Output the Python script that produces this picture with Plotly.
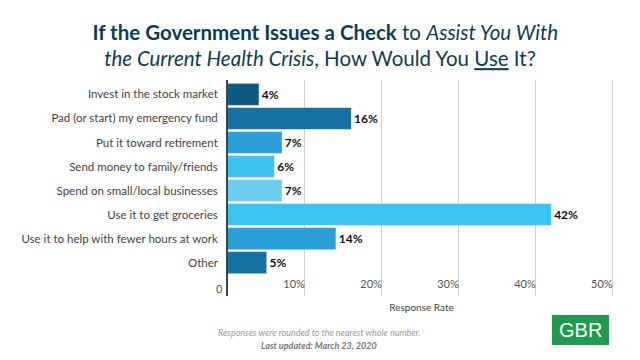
import plotly.graph_objects as go

categories = [
    "Invest in the stock market",
    "Pad (or start) my emergency fund",
    "Put it toward retirement",
    "Send money to family/friends",
    "Spend on small/local businesses",
    "Use it to get groceries",
    "Use it to help with fewer hours at work",
    "Other",
]
values = [4, 16, 7, 6, 7, 42, 14, 5]
bar_colors = ["#0f5a80", "#1772a3", "#2a9fd8", "#3cc2ef", "#6ccdef", "#3ac4f2", "#2b9fd8", "#1672a2"]
tick_vals = [10, 20, 30, 40, 50]
tick_text = ["10%", "20%", "30%", "40%", "50%"]

FONT = "Lato"
TITLE_COLOR = "#0d3d56"

# The page body adds an 8px margin, so the figure is drawn 8px smaller
# and every reference pixel position is shifted by that offset.
OFF = 8
W, H = 640 - OFF, 360 - OFF
PL, PR, PT, PB = 228 - OFF, 615 - OFF, 80 - OFF, 296 - OFF  # plot area
PW, PH = PR - PL, PB - PT


def px(xr):
    return (xr - OFF - PL) / PW


def py(yr):
    return (PB - (yr - OFF)) / PH


fig = go.Figure()
fig.add_trace(go.Bar(
    y=categories,
    x=values,
    orientation="h",
    marker=dict(color=bar_colors, line=dict(width=0)),
    text=[f"<b>{v}%</b>" for v in values],
    textposition="outside",
    textfont=dict(family=FONT, size=12, color="#111111"),
    cliponaxis=False,
    hoverinfo="skip",
))

fig.update_layout(
    width=W,
    height=H,
    paper_bgcolor="white",
    plot_bgcolor="white",
    margin=dict(l=PL, r=W - PR, t=PT, b=H - PB, autoexpand=False),
    bargap=0.1,
    showlegend=False,
    font=dict(family=FONT, size=11, color="#444444"),
    title=dict(
        text=("&nbsp;&nbsp;<b>If the Government Issues a Check</b> to <i>Assist You With</i><br>"
              "<i>the Current Health Crisis</i>, How Would You <u>Use</u> It?"),
        xref="container",
        x=(320 - OFF) / W,
        xanchor="center",
        yref="container",
        y=1 - (39.5 - OFF) / H,
        yanchor="middle",
        font=dict(family=FONT, size=20.5, color=TITLE_COLOR),
    ),
    xaxis=dict(
        range=[0, 50.3],
        tickvals=tick_vals,
        ticktext=tick_text,
        ticklabelposition="inside left",
        showgrid=True,
        gridcolor="#d0d0d0",
        gridwidth=1,
        zeroline=False,
        showline=False,
        automargin=False,
        tickfont=dict(family=FONT, size=11, color="#555555"),
        title=dict(text="Response Rate", font=dict(family=FONT, size=10, color="#444444"), standoff=15),
        fixedrange=True,
    ),
    yaxis=dict(
        categoryorder="array",
        categoryarray=categories,
        range=[8.39, -0.6],
        showgrid=False,
        zeroline=False,
        showline=True,
        linecolor="#37474f",
        linewidth=2,
        ticks="",
        ticksuffix="  ",
        automargin=False,
        tickfont=dict(family=FONT, size=11.5, color="#444444"),
        fixedrange=True,
    ),
)

# "0" tick label sits left of the axis line
fig.add_annotation(
    xref="x", yref="paper", x=0, y=py(288), xanchor="right", yanchor="middle",
    xshift=-3, text="0", showarrow=False, font=dict(family=FONT, size=11, color="#555555"),
)

fig.add_annotation(
    xref="paper", yref="paper", x=px(319), y=py(332),
    xanchor="center", yanchor="middle",
    text="<i>Responses were rounded to the nearest whole number.</i>",
    showarrow=False, font=dict(family=FONT, size=9, color="#9a9a9a"),
)
fig.add_annotation(
    xref="paper", yref="paper", x=px(319), y=py(345),
    xanchor="center", yanchor="middle",
    text="<b><i>Last updated: March 23, 2020</i></b>",
    showarrow=False, font=dict(family=FONT, size=9, color="#777777"),
)

# GBR logo
fig.add_shape(
    type="rect", xref="paper", yref="paper",
    x0=px(552), x1=px(609), y0=py(345), y1=py(315),
    fillcolor="#1f9a4e", line=dict(width=0), layer="above",
)
fig.add_annotation(
    xref="paper", yref="paper", x=px(580.5), y=py(330),
    xanchor="center", yanchor="middle", text="GBR", showarrow=False,
    font=dict(family="Liberation Sans", size=20, color="white"),
)

fig.write_html("out.html")
